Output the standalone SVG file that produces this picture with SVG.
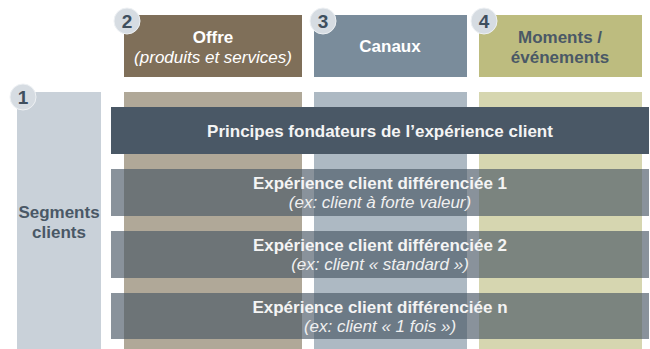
<svg xmlns="http://www.w3.org/2000/svg" width="650" height="349" viewBox="0 0 650 349">
  <style>
    text { font-family: "Liberation Sans", Arial, sans-serif; text-anchor: middle; }
    .hd { font-size: 17px; font-weight: bold; fill: #ffffff; }
    .hd-dark { font-size: 17px; font-weight: bold; fill: #4a5866; }
    .sub { font-size: 17px; font-style: italic; fill: #ffffff; }
    .num { font-size: 19px; font-weight: bold; fill: #3f4f5e; }
    .badge { fill: #d6dce2; stroke: #eef1f4; stroke-width: 1; }
    .bar-main { fill: #4a5866; }
    .bar-seg { fill: #4a5866; fill-opacity: 0.65; }
    .bar-txt { font-size: 17px; font-weight: bold; fill: #f4f4f4; }
    .bar-sub { font-size: 17px; font-style: italic; fill: #f0f0f0; }
  </style>

  <!-- column bodies -->
  <g id="segments">
    <rect x="17" y="92" width="84" height="257" fill="#c9d1d9"/>
    <text class="hd-dark" x="59" y="218">Segments</text>
    <text class="hd-dark" x="59" y="238">clients</text>
    <circle class="badge" cx="23" cy="97" r="13"/>
    <text class="num" x="23" y="104">1</text>
  </g>

  <g id="offre">
    <rect x="124" y="15" width="178" height="62" fill="#7f6f59"/>
    <rect x="124" y="92" width="178" height="257" fill="#b0a898"/>
    <text class="hd" x="213" y="43">Offre</text>
    <text class="sub" x="213" y="63">(produits et services)</text>
    <circle class="badge" cx="127" cy="21" r="13"/>
    <text class="num" x="127" y="28">2</text>
  </g>

  <g id="canaux">
    <rect x="314" y="15" width="153" height="62" fill="#7a8c9b"/>
    <rect x="314" y="92" width="153" height="257" fill="#adb9c3"/>
    <text class="hd" x="390" y="52">Canaux</text>
    <circle class="badge" cx="323" cy="21" r="13"/>
    <text class="num" x="323" y="28">3</text>
  </g>

  <g id="moments">
    <rect x="479" y="15" width="163" height="62" fill="#bdbc7f"/>
    <rect x="479" y="92" width="163" height="257" fill="#d6d6b0"/>
    <text class="hd-dark" x="560" y="43">Moments /</text>
    <text class="hd-dark" x="560" y="63">événements</text>
    <circle class="badge" cx="484" cy="21" r="13"/>
    <text class="num" x="484" y="28">4</text>
  </g>

  <!-- horizontal layers across the columns -->
  <g id="principes">
    <rect class="bar-main" x="111" y="107" width="538" height="47"/>
    <text class="bar-txt" x="380" y="137">Principes fondateurs de l’expérience client</text>
  </g>

  <g id="experience-1">
    <rect class="bar-seg" x="111" y="169" width="538" height="47"/>
    <text class="bar-txt" x="380" y="189">Expérience client différenciée 1</text>
    <text class="bar-sub" x="380" y="208">(ex: client à forte valeur)</text>
  </g>

  <g id="experience-2">
    <rect class="bar-seg" x="111" y="231" width="538" height="47"/>
    <text class="bar-txt" x="380" y="251">Expérience client différenciée 2</text>
    <text class="bar-sub" x="380" y="270">(ex: client « standard »)</text>
  </g>

  <g id="experience-n">
    <rect class="bar-seg" x="111" y="293" width="538" height="46"/>
    <text class="bar-txt" x="380" y="313">Expérience client différenciée n</text>
    <text class="bar-sub" x="380" y="332">(ex: client « 1 fois »)</text>
  </g>

  <g id="connectors"/>
</svg>
